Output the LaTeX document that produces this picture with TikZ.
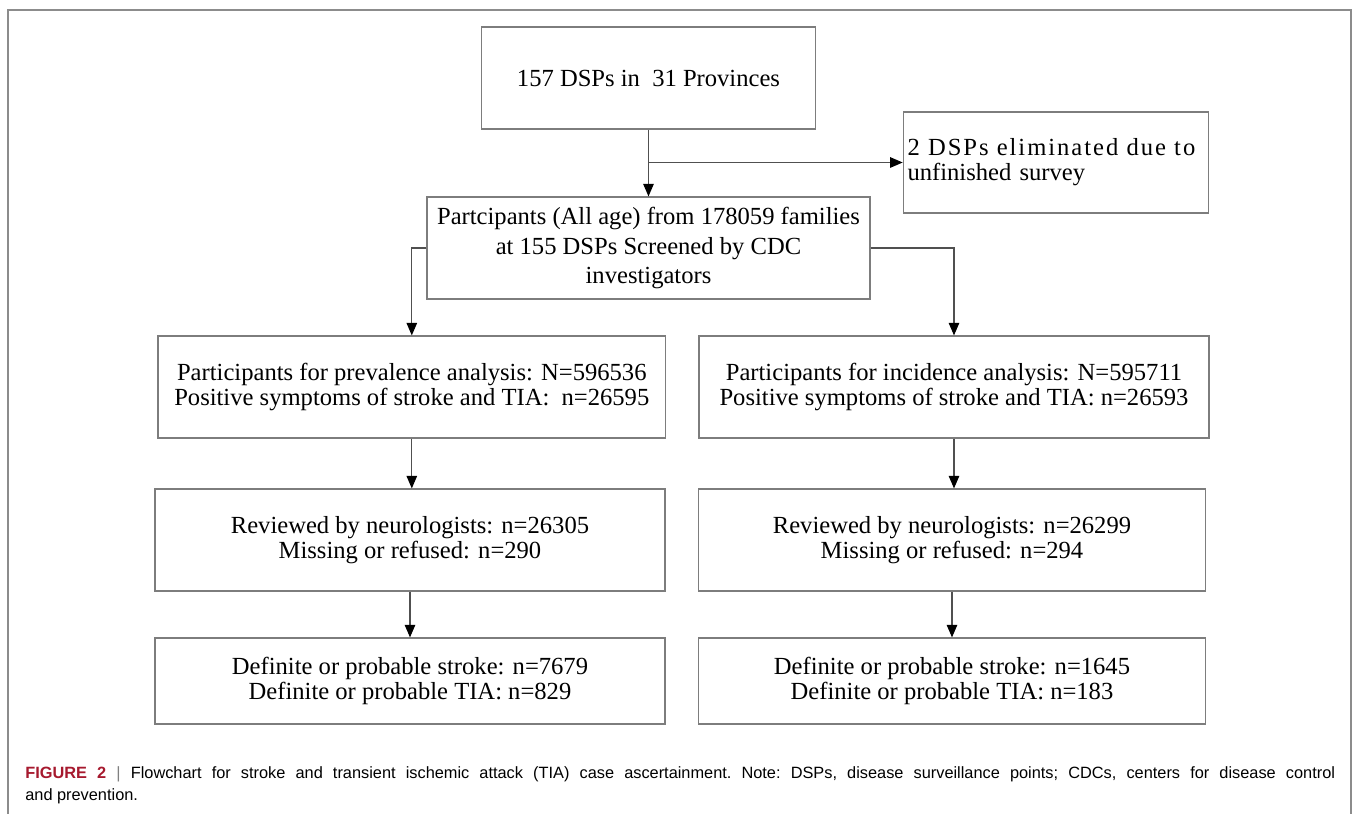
\documentclass[tikz,border=0pt]{standalone}
\usepackage{fontspec}
\setmainfont{Liberation Serif}
\newfontfamily\capfont{Liberation Sans}
\usetikzlibrary{arrows.meta, positioning, calc}
\definecolor{boxgray}{RGB}{125,125,125}
\definecolor{linegray}{RGB}{80,80,80}
\definecolor{framegray}{RGB}{140,140,140}
\definecolor{figred}{RGB}{166,25,46}

\tikzset{
  flowbox/.style={draw=boxgray, line width=0.7pt, inner sep=1pt, align=center, font=\fontsize{14}{14.2}\selectfont},
  flowarrow/.style={draw=linegray, line width=0.6pt, -{Triangle[length=0.25cm, width=0.21cm, black]}},
}

\begin{document}
\begin{tikzpicture}[x=0.02cm, y=-0.02cm]
  \useasboundingbox (0,0) rectangle (1357,814);
  \draw[framegray, line width=0.6pt] (8,814) -- (8,10) -- (1351,10) -- (1351,814);

  % top of the chart
  \node[flowbox, minimum width=6.68cm, minimum height=2.04cm] (dsp) at (648.5,78) {157 DSPs in\ \ 31 Provinces};
  \node[flowbox, minimum width=6.11cm, minimum height=2.02cm, text width=5.94cm, align=left] (elim) at (1056,162.5)
    {\makebox[\linewidth][s]{\addfontfeatures{LetterSpace=8}2 DSPs eliminated due to}\\unfinished survey};
  \node[flowbox, minimum width=8.86cm, minimum height=2.04cm, font=\fontsize{14}{17}\selectfont] (screen) at (648.5,248)
    {Partcipants (All age) from 178059 families\\at 155 DSPs Screened by CDC\\investigators};

  % prevalence branch
  \node[flowbox, minimum width=10.15cm, minimum height=2.04cm] (prev) at (411.8,387)
    {Participants for prevalence analysis: N=596536\\Positive symptoms of stroke and TIA:\ \ n=26595};
  \node[flowbox, minimum width=10.2cm, minimum height=2.04cm] (prevrev) at (410,540)
    {Reviewed by neurologists: n=26305\\Missing or refused: n=290};
  \node[flowbox, minimum width=10.2cm, minimum height=1.72cm] (prevdef) at (410,681)
    {Definite or probable stroke: n=7679\\Definite or probable TIA: n=829};

  % incidence branch
  \node[flowbox, minimum width=10.2cm, minimum height=2.04cm] (inc) at (954,387)
    {Participants for incidence analysis: N=595711\\Positive symptoms of stroke and TIA: n=26593};
  \node[flowbox, minimum width=10.14cm, minimum height=2.04cm] (increv) at (952,540)
    {Reviewed by neurologists: n=26299\\Missing or refused: n=294};
  \node[flowbox, minimum width=10.14cm, minimum height=1.72cm] (incdef) at (952,681)
    {Definite or probable stroke: n=1645\\Definite or probable TIA: n=183};

  % connectors
  \coordinate (split) at (dsp.south |- elim.west);
  \draw[flowarrow] (dsp.south) -- (dsp.south |- screen.north);
  \draw[flowarrow] (split) -- (elim.west);
  \draw[flowarrow] (screen.west) -| (prev.north);
  \draw[flowarrow] (screen.east) -| (inc.north);
  \draw[flowarrow] (prev.south) -- (prev.south |- prevrev.north);
  \draw[flowarrow] (prevrev.south) -- (prevrev.south |- prevdef.north);
  \draw[flowarrow] (inc.south) -- (inc.south |- increv.north);
  \draw[flowarrow] (increv.south) -- (increv.south |- incdef.north);

  % caption
  \node[anchor=north west, text width=26.2cm, align=justify, inner sep=0pt, font=\capfont\fontsize{9.3}{12.5}\selectfont\frenchspacing] (caption) at (25,766)
    {\textcolor{figred}{\textbf{FIGURE 2}} {\color{gray}|} Flowchart for stroke and transient ischemic attack (TIA) case ascertainment. Note: DSPs, disease surveillance points; CDCs, centers for disease control\linebreak and prevention.};
\end{tikzpicture}
\end{document}
